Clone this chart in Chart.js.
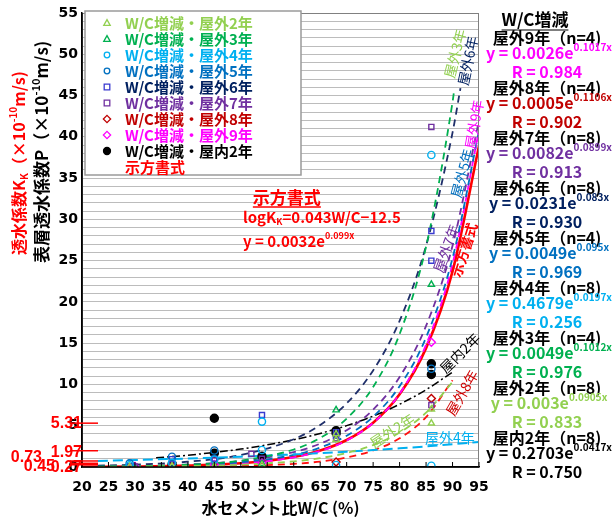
<!DOCTYPE html>
<html>
<head>
<meta charset="utf-8">
<script src="https://cdn.jsdelivr.net/npm/chart.js@4.4.1/dist/chart.umd.min.js"></script>
<style>
  html, body { margin: 0; padding: 0; background: #fff; }
</style>
</head>
<body>
<canvas id="myChart" width="615" height="519"></canvas>
<script>
// 軸
const xTicks = [20, 25, 30, 35, 40, 45, 50, 55, 60, 65, 70, 75, 80, 85, 90, 95];
const yTicks = [0, 5, 10, 15, 20, 25, 30, 35, 40, 45, 50, 55];
// 示方書式による値 (W/C=75,65,55,50,45)
const refVals = [5.31, 1.97, 0.73, 0.45, 0.27];

// 測定値 W/C(%) と 透水係数
const wcOut2 = [29, 37, 45, 54, 68, 68, 86, 86];
const kOut2 = [0.05, 0.1, 0.05, 0.2, 3.3, 4.0, 5.3, 7.0];
const wcOut3 = [45, 54, 68, 86];
const kOut3 = [0.1, 0.4, 6.9, 22.1];
const wcOut4 = [29, 37, 45, 54, 54, 68, 86, 86];
const kOut4 = [0.2, 0.5, 0.9, 2.06, 5.5, 0.24, 0.15, 37.8];
const wcOut5 = [29, 37, 45, 86];
const kOut5 = [0.45, 1.25, 2.0, 11.9];
const wcOut6 = [29, 37, 45, 54, 68, 68, 86, 86];
const kOut6 = [0.1, 0.95, 1.0, 6.3, 3.8, 4.2, 25.0, 28.6];
const wcOut7 = [30, 37, 45, 52, 54, 68, 86, 86];
const kOut7 = [0.05, 0.6, 0.8, 1.6, 1.0, 3.5, 7.5, 41.2];
const wcOut8 = [37, 54, 68, 86];
const kOut8 = [0.05, 0.05, 0.6, 8.3];
const wcOut9 = [30, 45, 54, 86];
const kOut9 = [0.05, 0.3, 0.5, 15.1];
const wcIn2 = [37, 45, 45, 54, 68, 68, 86, 86];
const kIn2 = [0.3, 5.9, 1.66, 1.3, 4.1, 4.4, 12.5, 11.2];

// 近似曲線 (図から読んだ値)
const fitX = [23, 30, 40, 50, 60, 65, 70, 75, 80, 85, 90, 95];
const fit2 = [0.02, 0.05, 0.11, 0.28, 0.68, 1.08, 1.69, 2.66, 4.18, 6.58, 10.3];
const fit3X = [23, 30, 40, 50, 60, 65, 70, 75, 80, 85, 90, 90.3];
const fit3 = [0.05, 0.10, 0.28, 0.77, 2.12, 3.52, 5.85, 9.70, 16.1, 26.7, 44.2, 45.6];
const fit4 = [0.74, 0.85, 1.03, 1.25, 1.53, 1.68, 1.86, 2.05, 2.26, 2.50, 2.76, 3.04];
const fit5 = [0.04, 0.09, 0.22, 0.57, 1.46, 2.35, 3.79, 6.09, 9.79, 15.7, 25.3, 40.7];
const fit6X = [23, 30, 40, 50, 60, 65, 70, 75, 80, 85, 90, 91.5];
const fit6 = [0.16, 0.28, 0.64, 1.46, 3.36, 5.09, 7.71, 11.7, 17.7, 26.8, 40.5, 45.9];
const fit7 = [0.07, 0.12, 0.30, 0.73, 1.80, 2.83, 4.44, 6.95, 10.9, 17.1, 26.8, 42.0];
const fit8 = [0.01, 0.01, 0.04, 0.13, 0.38, 0.66, 1.15, 2.0, 3.48, 6.05, 10.5];
const fit9 = [0.03, 0.06, 0.15, 0.42, 1.16, 1.93, 3.21, 5.34, 8.88, 14.8, 24.6, 40.8];
const fitInX = [34, 40, 50, 60, 65, 70, 75, 80, 85, 90];
const fitIn = [1.12, 1.43, 2.17, 3.30, 4.07, 5.01, 6.17, 7.60, 9.36, 11.5];
const specX = [20, 30, 40, 50, 60, 65, 70, 75, 80, 85, 90, 95];
const spec = [0.02, 0.06, 0.17, 0.45, 1.22, 1.99, 3.27, 5.37, 8.81, 14.4, 23.7, 38.9];

// 凡例・注記の文字
const names = ['W/C増減・屋外2年', 'W/C増減・屋外3年', 'W/C増減・屋外4年', 'W/C増減・屋外5年', 'W/C増減・屋外6年',
  'W/C増減・屋外7年', 'W/C増減・屋外8年', 'W/C増減・屋外9年', 'W/C増減・屋内2年'];
const noteTitles = ['屋外9年（n=4)', '屋外8年（n=4)', '屋外7年（n=8)', '屋外6年（n=8)', '屋外5年（n=4)',
  '屋外4年（n=8)', '屋外3年（n=4)', '屋外2年（n=8)', '屋内2年（n=8)'];
const noteCoefs = ['0.0026', '0.0005', '0.0082', '0.0231', '0.0049', '0.4679', '0.0049', '0.003', '0.2703'];
const noteExps = ['0.1017x', '0.1106x', '0.0899x', '0.083x', '0.095x', '0.0197x', '0.1012x', '0.0905x', '0.0417x'];
const noteR = ['0.984', '0.902', '0.913', '0.930', '0.969', '0.256', '0.976', '0.833', '0.750'];

// 色など
const FONT = '"Noto Sans CJK JP", "Noto Sans", sans-serif';
const NUMFONT = '"DejaVu Sans", sans-serif';
const colors = ['#92d050', '#00b050', '#00b0f0', '#0070c0', '#3a3ad0', '#7030a0', '#c00000', '#ff00ff', '#000000'];
const textColors = ['#92d050', '#00b050', '#00b0f0', '#0070c0', '#002060', '#7030a0', '#c00000', '#ff00ff', '#000000'];
const markers = ['triangle', 'triangle', 'circle', 'circle', 'rect', 'rect', 'rectRot', 'rectRot', 'circle'];
const noteColors = ['#ff00ff', '#c00000', '#7030a0', '#002060', '#0070c0', '#00b0f0', '#00b050', '#92d050', '#000000'];

const pts = (xs, ys) => ys.map((v, i) => ({ x: xs[i], y: v }));

const pointSets = [[wcOut2, kOut2], [wcOut3, kOut3], [wcOut4, kOut4], [wcOut5, kOut5], [wcOut6, kOut6],
  [wcOut7, kOut7], [wcOut8, kOut8], [wcOut9, kOut9], [wcIn2, kIn2]];

const datasets = pointSets.map(([xs, ys], i) => ({
    type: 'scatter',
    label: names[i],
    data: pts(xs, ys),
    pointStyle: markers[i],
    pointRadius: i === 8 ? 4 : (markers[i] === 'rectRot' ? 4 : 3.6),
    pointBorderWidth: 1.4,
    pointBorderColor: colors[i],
    pointBackgroundColor: i === 8 ? '#000' : 'rgba(255,255,255,0)',
    order: 0
}));

function curve(xs, ys, color, dash, width) {
    return {
        type: 'line',
        data: pts(xs, ys),
        borderColor: color,
        borderDash: dash,
        borderWidth: width,
        pointRadius: 0,
        fill: false,
        cubicInterpolationMode: 'monotone',
        order: 1
    };
}
datasets.push(
    curve(fitX, fit2, '#92d050', [7, 5], 1.8),
    curve(fit3X, fit3, '#00b050', [7, 5], 1.8),
    curve(fitX, fit4, '#00b0f0', [10, 5], 2),
    curve(fitX, fit5, '#0070c0', [7, 5], 1.8),
    curve(fit6X, fit6, '#1f2f6a', [7, 5], 1.8),
    curve(fitX, fit7, '#7030a0', [7, 5], 1.8),
    curve(fitX, fit8, '#ff1010', [7, 5], 1.8),
    curve(fitX, fit9, '#ff00ff', [7, 5], 1.8),
    curve(fitInX, fitIn, '#000000', [8, 3, 2, 3], 1.5),
    curve(specX, spec, '#ff0000', [], 2.6)
);

// 上付き・下付き付きの文字列
function richText(ctx, x, y, parts, size, color, align, weight) {
    const w8 = weight || 'bold';
    const fontFor = m => w8 + ' ' + (m ? Math.round(size * 0.62) : size) + 'px ' + FONT;
    let w = 0;
    parts.forEach(([t, m]) => { ctx.font = fontFor(m); w += ctx.measureText(t).width; });
    let cx = align === 'center' ? x - w / 2 : (align === 'right' ? x - w : x);
    ctx.fillStyle = color;
    ctx.textAlign = 'left';
    ctx.textBaseline = 'middle';
    parts.forEach(([t, m]) => {
        ctx.font = fontFor(m);
        const dy = m === 1 ? -size * 0.38 : (m === -1 ? size * 0.3 : 0);
        ctx.fillText(t, cx, y + dy);
        cx += ctx.measureText(t).width;
    });
    return w;
}

function drawMarker(ctx, style, x, y, r, color, filled) {
    ctx.beginPath();
    if (style === 'circle') ctx.arc(x, y, r, 0, Math.PI * 2);
    else if (style === 'rect') ctx.rect(x - r, y - r, 2 * r, 2 * r);
    else if (style === 'rectRot') {
        ctx.moveTo(x, y - r * 1.3); ctx.lineTo(x + r * 1.3, y);
        ctx.lineTo(x, y + r * 1.3); ctx.lineTo(x - r * 1.3, y); ctx.closePath();
    } else {
        ctx.moveTo(x, y - r * 1.2); ctx.lineTo(x + r * 1.15, y + r * 0.85);
        ctx.lineTo(x - r * 1.15, y + r * 0.85); ctx.closePath();
    }
    ctx.lineWidth = 1.3;
    ctx.strokeStyle = color;
    if (filled) { ctx.fillStyle = color; ctx.fill(); }
    ctx.stroke();
}

const decor = {
    id: 'decor',
    afterDraw(chart) {
        const { ctx, chartArea: a, scales: { x, y } } = chart;
        ctx.save();

        // 枠
        ctx.strokeStyle = '#808080';
        ctx.lineWidth = 1;
        ctx.strokeRect(a.left + 0.5, a.top + 0.5, a.right - a.left - 1, a.bottom - a.top);
        ctx.strokeStyle = '#000';
        ctx.lineWidth = 1.5;
        ctx.beginPath();
        ctx.moveTo(a.left, a.top); ctx.lineTo(a.left, a.bottom); ctx.lineTo(a.right, a.bottom);
        ctx.stroke();
        ctx.lineWidth = 1;
        x.ticks.forEach(t => {
            const px = x.getPixelForValue(t.value);
            ctx.beginPath(); ctx.moveTo(px, a.bottom); ctx.lineTo(px, a.bottom - 5); ctx.stroke();
        });

        // 示方書式の値 (赤)
        const refRight = [82, 82, 42, 55, 82];
        const refDy = [0, 2, -3, 3, 3];
        ctx.strokeStyle = '#ff0000';
        ctx.lineWidth = 1.5;
        refVals.forEach(v => {
            const py = y.getPixelForValue(v);
            ctx.beginPath(); ctx.moveTo(a.left - 12, py); ctx.lineTo(a.left + 16, py); ctx.stroke();
        });
        ctx.font = 'bold 16px "Liberation Sans", sans-serif';
        ctx.fillStyle = '#ff0000';
        ctx.textAlign = 'right';
        ctx.textBaseline = 'middle';
        refVals.forEach((v, i) => {
            ctx.fillText(v.toFixed(2), refRight[i], y.getPixelForValue(v) + refDy[i]);
        });

        // 凡例
        const lx = 85, ly = 11, lw = 216, lh = 164;
        ctx.fillStyle = '#fff';
        ctx.fillRect(lx, ly, lw, lh);
        ctx.strokeStyle = '#9a9a9a';
        ctx.lineWidth = 1.5;
        ctx.strokeRect(lx, ly, lw, lh);
        names.forEach((n, i) => {
            const yy = 23 + i * 16;
            drawMarker(ctx, markers[i], 107, yy, i === 8 ? 3.5 : 2.8, colors[i], i === 8);
            ctx.font = 'bold 15px ' + FONT;
            ctx.fillStyle = textColors[i];
            ctx.textAlign = 'left';
            ctx.textBaseline = 'middle';
            ctx.fillText(n, 125, yy);
        });
        ctx.fillStyle = '#ff0000';
        ctx.fillText('示方書式', 125, 23 + 9 * 16);

        // 中央の注記
        const sx = x.getPixelForValue(58.7), sy = y.getPixelForValue(32.7);
        ctx.font = 'bold 17px ' + FONT;
        ctx.fillStyle = '#ff0000';
        ctx.textAlign = 'center';
        ctx.fillText('示方書式', sx, sy);
        const sw = ctx.measureText('示方書式').width;
        ctx.strokeStyle = '#ff0000';
        ctx.lineWidth = 1.5;
        ctx.beginPath(); ctx.moveTo(sx - sw / 2, sy + 10); ctx.lineTo(sx + sw / 2, sy + 10); ctx.stroke();
        const ex = x.getPixelForValue(50.4);
        richText(ctx, ex, y.getPixelForValue(30.3), [['logK', 0], ['K', -1], ['=0.043W/C−12.5', 0]], 15, '#ff0000', 'left');
        richText(ctx, ex, y.getPixelForValue(27.3), [['y = 0.0032e', 0], ['0.099x', 1]], 15, '#ff0000', 'left');

        // 曲線のラベル
        const tags = [
            ['屋外3年', 90.5, 50.1, -76, '#92d050', 'normal'],
            ['屋外6年', 92.9, 49.2, -78, '#002060', 'normal'],
            ['屋外9年', 94.1, 41.5, -80, '#ff00ff', 'normal'],
            ['屋外5年', 91.8, 35.6, -75, '#0070c0', 'normal'],
            ['屋外7年', 88.8, 26.5, -70, '#7030a0', 'normal'],
            ['示方書式', 92.2, 26.3, -72, '#ff0000', 'bold'],
            ['屋内2年', 91.4, 13.8, -45, '#000000', 'normal'],
            ['屋外8年', 91.8, 9.0, -60, '#d00000', 'normal'],
            ['屋外2年', 78.6, 4.4, -33, '#92d050', 'normal'],
            ['屋外4年', 89.5, 3.6, 0, '#00b0f0', 'normal']
        ];
        tags.forEach(([t, vx, vy, ang, col, wt]) => {
            ctx.save();
            ctx.translate(x.getPixelForValue(vx), y.getPixelForValue(vy));
            ctx.rotate(ang * Math.PI / 180);
            ctx.font = wt + ' 14px ' + FONT;
            ctx.fillStyle = col;
            ctx.textAlign = 'center';
            ctx.textBaseline = 'middle';
            ctx.fillText(t, 0, 0);
            ctx.restore();
        });

        // 縦軸タイトル
        ctx.save();
        ctx.translate(19, 255);
        ctx.rotate(-Math.PI / 2);
        richText(ctx, 0, 0, [['透水係数K', 0], ['K', -1], ['（×10', 0], ['-10', 1], ['m/s)', 0]], 16, '#ff0000', 'left');
        ctx.restore();
        ctx.save();
        ctx.translate(42, 263);
        ctx.rotate(-Math.PI / 2);
        richText(ctx, 0, 0, [['表層透水係数P（×10', 0], ['-10', 1], ['m/s)', 0]], 17, '#000000', 'left');
        ctx.restore();

        // 横軸タイトル
        ctx.font = 'bold 16px ' + FONT;
        ctx.fillStyle = '#000';
        ctx.textAlign = 'center';
        ctx.textBaseline = 'middle';
        ctx.fillText('水セメント比W/C (%)', (a.left + a.right) / 2, 508);

        // 右側の近似式
        const cx = 547;
        ctx.font = 'bold 17px ' + FONT;
        ctx.fillStyle = '#000';
        ctx.fillText('W/C増減', 535, 20);
        const hw = ctx.measureText('W/C増減').width;
        ctx.strokeStyle = '#000';
        ctx.lineWidth = 1.2;
        ctx.beginPath(); ctx.moveTo(535 - hw / 2, 30); ctx.lineTo(535 + hw / 2, 30); ctx.stroke();
        noteTitles.forEach((t, i) => {
            const by = 38 + i * 50;
            richText(ctx, cx, by, [[t, 0]], 16, '#000', 'center');
            richText(ctx, cx + 2, by + 15, [['y = ' + noteCoefs[i] + 'e', 0], [noteExps[i], 1]], 16, noteColors[i], 'center');
            richText(ctx, cx, by + 34, [['R = ' + noteR[i], 0]], 16, noteColors[i], 'center');
        });

        ctx.restore();
    }
};

const ctx = document.getElementById('myChart');
new Chart(ctx, {
    type: 'scatter',
    data: { datasets: datasets },
    options: {
        responsive: false,
        animation: false,
        layout: { padding: { top: 13, right: 136, bottom: 0, left: 0 } },
        plugins: { legend: { display: false }, tooltip: { enabled: false } },
        scales: {
            x: {
                type: 'linear',
                min: xTicks[0],
                max: xTicks[xTicks.length - 1],
                afterBuildTicks: s => { s.ticks = xTicks.map(v => ({ value: v })); },
                ticks: { color: '#000', font: { family: NUMFONT, size: 14, weight: 'bold' }, padding: 12, maxRotation: 0, autoSkip: false },
                grid: { drawOnChartArea: false, drawTicks: false },
                border: { color: '#000', width: 1.5 },
                afterFit: s => { s.height = 52; }
            },
            y: {
                min: yTicks[0],
                max: yTicks[yTicks.length - 1],
                ticks: {
                    stepSize: 1,
                    autoSkip: false,
                    color: '#000',
                    padding: 4,
                    font: { family: NUMFONT, size: 14, weight: 'bold' },
                    callback: v => (yTicks.includes(v) ? String(v) : '')
                },
                grid: { color: '#bcbcbc', lineWidth: 1, drawTicks: false },
                border: { color: '#000', width: 1.5 },
                afterFit: s => { s.width = 82; }
            }
        }
    },
    plugins: [decor]
});
</script>
</body>
</html>
